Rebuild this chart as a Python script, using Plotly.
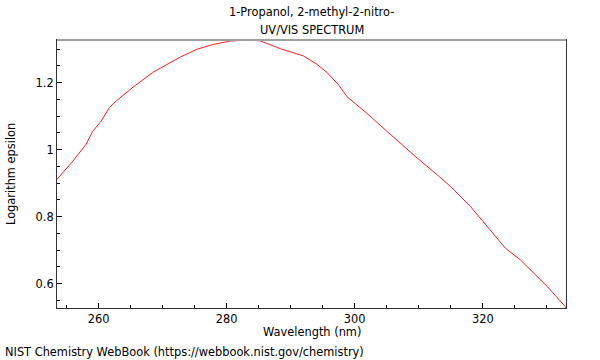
import plotly.graph_objects as go

wavelength_nm = [253.5, 255.9, 258.0, 259.1, 260.4, 261.7, 262.8, 265.4, 268.6, 271.8,
                 272.8, 275.4, 278.0, 280.6, 283.7, 285.3, 288.4, 292.0, 294.1, 295.7,
                 296.7, 297.5, 298.8, 301.9, 305.1, 307.7, 309.8, 313.1, 315.0, 318.1,
                 320.7, 323.55, 325.9, 330.1, 332.9, 333.0]
log_epsilon = [0.9117, 0.9642, 1.0150, 1.0553, 1.0857, 1.1260, 1.1463, 1.1872, 1.2323, 1.2650,
               1.2770, 1.3000, 1.3147, 1.3245, 1.3275, 1.3245, 1.3015, 1.2797, 1.2550, 1.2299,
               1.2081, 1.1932, 1.1582, 1.1087, 1.0537, 1.0090, 0.9744, 0.9215, 0.8896, 0.8299,
               0.7702, 0.7057, 0.6708, 0.5911, 0.5314, 0.5275]

x_ticks = [260, 280, 300, 320]
y_ticks = [0.6, 0.8, 1.0, 1.2]
y_tick_text = ["0.6", "0.8", "1", "1.2"]

FONT = "DejaVu Sans"
FS = 11.4
W, H = 600, 360
ML, MR, MT, MB = 57, 34, 40, 52
PW, PH = W - ML - MR, H - MT - MB


def px_x(px):
    return (px - ML) / PW


def px_y(py):
    return 1 - (py - MT) / PH


fig = go.Figure()
fig.add_trace(go.Scatter(x=wavelength_nm, y=log_epsilon, mode="lines",
                         line=dict(color="#ff2020", width=1), hoverinfo="skip",
                         showlegend=False))

common = dict(xref="paper", yref="paper", showarrow=False, yanchor="middle",
              font=dict(family=FONT, size=FS, color="black"))

fig.update_layout(
    width=W, height=H,
    margin=dict(l=ML, r=MR, t=MT, b=MB),
    paper_bgcolor="white", plot_bgcolor="white",
    font=dict(family=FONT, size=FS, color="black"),
    xaxis=dict(range=[253.5, 333.0], tickvals=x_ticks, ticks="inside", ticklen=5,
               tickcolor="black", showgrid=False, zeroline=False,
               showline=True, linecolor="#333", linewidth=1, mirror=True,
               minor=dict(dtick=5, tick0=0, ticks="inside", ticklen=3, tickcolor="black"),
               tickfont=dict(family=FONT, size=FS)),
    yaxis=dict(range=[0.5275, 1.3275], tickvals=y_ticks, ticktext=y_tick_text,
               ticks="inside", ticklen=5, tickcolor="black", showgrid=False, zeroline=False,
               showline=True, linecolor="#333", linewidth=1, mirror=True,
               minor=dict(dtick=0.05, tick0=0, ticks="inside", ticklen=3, tickcolor="black"),
               tickfont=dict(family=FONT, size=FS)),
    annotations=[
        dict(text="1-Propanol, 2-methyl-2-nitro-", x=0.5, y=px_y(12), xanchor="center", **common),
        dict(text="UV/VIS SPECTRUM", x=0.5, y=px_y(30), xanchor="center", **common),
        dict(text="Wavelength (nm)", x=0.5, y=px_y(332), xanchor="center", **common),
        dict(text="NIST Chemistry WebBook (https://webbook.nist.gov/chemistry)",
             x=px_x(3), y=px_y(352), xanchor="left", **common),
        dict(text="Logarithm epsilon", x=px_x(11), y=px_y(174), xanchor="center",
             textangle=-90, **common),
    ],
)

fig.add_shape(type="line", xref="paper", yref="paper", x0=0, x1=1, y0=1, y1=1,
              line=dict(color="#a0a0a0", width=2))

fig.write_html("out.html", config={"displayModeBar": False},
               post_script="document.body.style.margin='0';document.body.style.overflow='hidden';")
